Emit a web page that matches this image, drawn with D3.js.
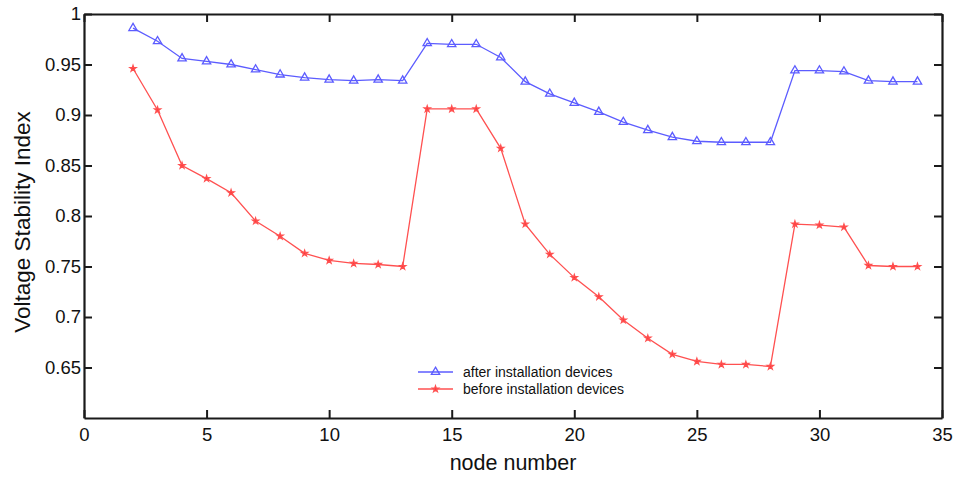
<!DOCTYPE html>
<html>
<head>
<meta charset="utf-8">
<script src="https://cdn.jsdelivr.net/npm/d3@7"></script>
<style>
  body { margin: 0; background: #fff; }
  text { font-family: "Liberation Sans", Arial, sans-serif; fill: #111; }
</style>
</head>
<body>
<div id="chart"></div>
<script>
// node numbers on the x axis
const nodes = [2, 3, 4, 5, 6, 7, 8, 9, 10, 11, 12, 13, 14, 15, 16, 17, 18,
  19, 20, 21, 22, 23, 24, 25, 26, 27, 28, 29, 30, 31, 32, 33, 34];

// after installation devices (blue)
const afterVals = [0.986, 0.973, 0.956, 0.953, 0.950, 0.945, 0.940, 0.937, 0.935,
  0.934, 0.935, 0.934, 0.971, 0.970, 0.970, 0.957, 0.933, 0.921, 0.912, 0.903,
  0.893, 0.885, 0.878, 0.874, 0.873, 0.873, 0.873, 0.944, 0.944, 0.943, 0.934,
  0.933, 0.933];

// before installation devices (red)
const beforeVals = [0.946, 0.905, 0.850, 0.837, 0.823, 0.795, 0.780, 0.763, 0.756,
  0.753, 0.752, 0.750, 0.906, 0.906, 0.906, 0.867, 0.792, 0.762, 0.739, 0.720,
  0.697, 0.679, 0.663, 0.656, 0.653, 0.653, 0.651, 0.792, 0.791, 0.789, 0.751,
  0.750, 0.750];

const xTicks = [0, 5, 10, 15, 20, 25, 30, 35];
const yTicks = [0.65, 0.7, 0.75, 0.8, 0.85, 0.9, 0.95, 1];

const W = 956, H = 477;
const margin = { top: 14, right: 14, bottom: 59, left: 84 };
const width = W - margin.left - margin.right;
const height = H - margin.top - margin.bottom;

const svg = d3.select("#chart").append("svg")
  .attr("width", W).attr("height", H);
const g = svg.append("g")
  .attr("transform", `translate(${margin.left},${margin.top})`);

const x = d3.scaleLinear().domain([0, 35]).range([0, width]);
const y = d3.scaleLinear().domain([0.6, 1]).range([height, 0]);

// inward ticks on all four sides, matlab style box
const tickLen = 8;
const axStroke = "#1a1a1a";

g.append("g")
  .attr("transform", `translate(0,${height})`)
  .call(d3.axisBottom(x).tickValues(xTicks).tickSizeInner(-tickLen).tickSizeOuter(0).tickPadding(10))
  .call(a => a.selectAll("text").style("font-size", "18.5px").attr("dy", "0.71em"));

g.append("g")
  .call(d3.axisLeft(y).tickValues(yTicks).tickSizeInner(-tickLen).tickSizeOuter(0).tickPadding(3)
    .tickFormat(d3.format("~g")))
  .call(a => a.selectAll("text").style("font-size", "18.5px"));

g.append("g")
  .call(d3.axisTop(x).tickValues(xTicks).tickSizeInner(-tickLen).tickSizeOuter(0).tickFormat(""));

g.append("g")
  .attr("transform", `translate(${width},0)`)
  .call(d3.axisRight(y).tickValues(yTicks).tickSizeInner(-tickLen).tickSizeOuter(0).tickFormat(""));

g.selectAll(".domain").attr("stroke", axStroke).attr("stroke-width", 2.2);
g.selectAll(".tick line").attr("stroke", axStroke).attr("stroke-width", 2);

const line = d3.line()
  .x((d, i) => x(nodes[i]))
  .y(d => y(d));

const series = [
  { name: "after installation devices", vals: afterVals, color: "#5c5cff", marker: d3.symbolTriangle, size: 30, fill: "none" },
  { name: "before installation devices", vals: beforeVals, color: "#ff5050", marker: d3.symbolStar, size: 11, fill: "#ff3030" }
];

series.forEach(s => {
  g.append("path")
    .datum(s.vals)
    .attr("fill", "none")
    .attr("stroke", s.color)
    .attr("stroke-width", 1.3)
    .attr("d", line);

  g.selectAll(null)
    .data(s.vals)
    .enter().append("path")
    .attr("transform", (d, i) => `translate(${x(nodes[i])},${y(d)})`)
    .attr("d", d3.symbol().type(s.marker).size(s.size))
    .attr("fill", s.fill)
    .attr("stroke", s.color)
    .attr("stroke-width", 1.3);
});

// legend, no box
const legend = g.append("g")
  .attr("transform", `translate(${418 - margin.left},${372 - margin.top})`);

series.forEach((s, i) => {
  const row = legend.append("g").attr("transform", `translate(0,${i * 17})`);
  row.append("line")
    .attr("x1", 0).attr("x2", 35)
    .attr("stroke", s.color).attr("stroke-width", 1.3);
  row.append("path")
    .attr("transform", "translate(17.5,0)")
    .attr("d", d3.symbol().type(s.marker).size(s.size))
    .attr("fill", s.fill)
    .attr("stroke", s.color)
    .attr("stroke-width", 1.3);
  row.append("text")
    .attr("x", 45).attr("y", 0).attr("dy", "0.35em")
    .style("font-size", "14px")
    .text(s.name);
});

// axis titles
svg.append("text")
  .attr("x", margin.left + width / 2)
  .attr("y", 470)
  .attr("text-anchor", "middle")
  .style("font-size", "21.5px")
  .text("node number");

svg.append("text")
  .attr("transform", `translate(30,${margin.top + height / 2 + 6}) rotate(-90)`)
  .attr("text-anchor", "middle")
  .style("font-size", "22.5px")
  .text("Voltage Stability Index");
</script>
</body>
</html>
